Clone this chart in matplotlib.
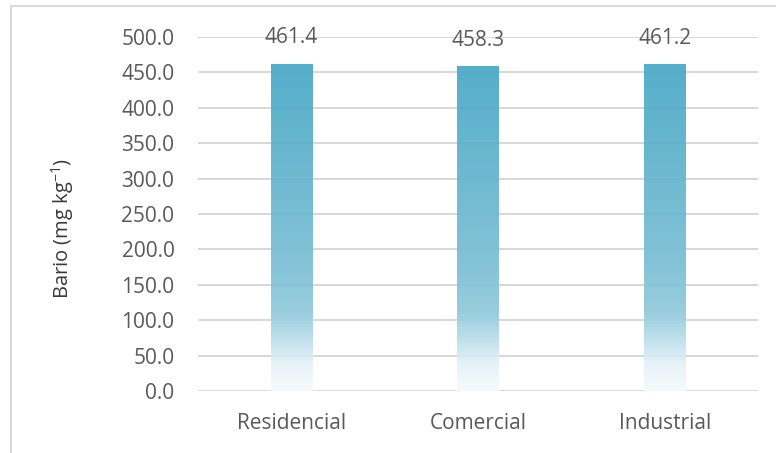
import matplotlib
matplotlib.use("Agg")
import matplotlib.pyplot as plt
from matplotlib.colors import LinearSegmentedColormap
from matplotlib.patches import Rectangle
import numpy as np

categories = ["Residencial", "Comercial", "Industrial"]
values = [461.4, 458.3, 461.2]
yticks = [0, 50, 100, 150, 200, 250, 300, 350, 400, 450, 500]

plt.rcParams['font.family'] = ['Open Sans', 'DejaVu Sans']
plt.rcParams['mathtext.default'] = 'regular'
txt = '#595959'

# gradient of the bar fill, bottom -> top (colour as seen over white)
stops = [(0.0, (246, 250, 252)), (0.08, (230, 242, 247)), (0.16, (185, 222, 233)),
         (0.24, (145, 202, 220)), (0.4, (122, 190, 212)), (1.0, (72, 168, 198))]
cmap = LinearSegmentedColormap.from_list(
    'bar', [(p, tuple(c / 255 for c in col)) for p, col in stops])

fig = plt.figure(figsize=(7.76, 4.53), dpi=100)
ax = fig.add_axes([198 / 776, 62 / 453, 560 / 776, 354 / 453])

# grid
for t in yticks:
    ax.axhline(t, color='#d4d4d4' if t else '#d9d9d9', lw=1.3, zorder=1)

x = np.arange(len(categories))
w = 0.22
grad = np.linspace(0, 1, 256).reshape(-1, 1)
for xi, v in zip(x, values):
    ax.imshow(grad, cmap=cmap, origin='lower', aspect='auto',
              extent=[xi - w / 2, xi + w / 2, 0, v], zorder=2, alpha=0.93,
              interpolation='bilinear')
    ax.annotate(f"{v:.1f}", (xi, v), xytext=(0, 19), textcoords='offset points',
                ha='center', va='center', fontsize=15, color=txt)

ax.set_xlim(-0.5, 2.5)
ax.set_ylim(0, 500)
ax.set_xticks(x)
ax.set_xticklabels(categories)
ax.set_yticks(yticks)
ax.set_yticklabels([f"{t:.1f}" for t in yticks])
ax.tick_params(axis='both', length=0, labelsize=15, labelcolor=txt)
ax.tick_params(axis='y', pad=17)
ax.tick_params(axis='x', pad=16)
for s in ax.spines.values():
    s.set_visible(False)

ax.set_ylabel('Bario (mg kg$^{-1}$)', fontsize=14.5, color='#3a3a3a')
ax.yaxis.set_label_coords(-122 / 560, 0.46)

# chart frame
fig.patches.append(Rectangle((11 / 776, -0.05), 1.2, 1 - 6 / 453 + 0.05,
                             transform=fig.transFigure, fill=False,
                             ec='#d9d9d9', lw=1.5))

fig.savefig('out.png', dpi=100)
